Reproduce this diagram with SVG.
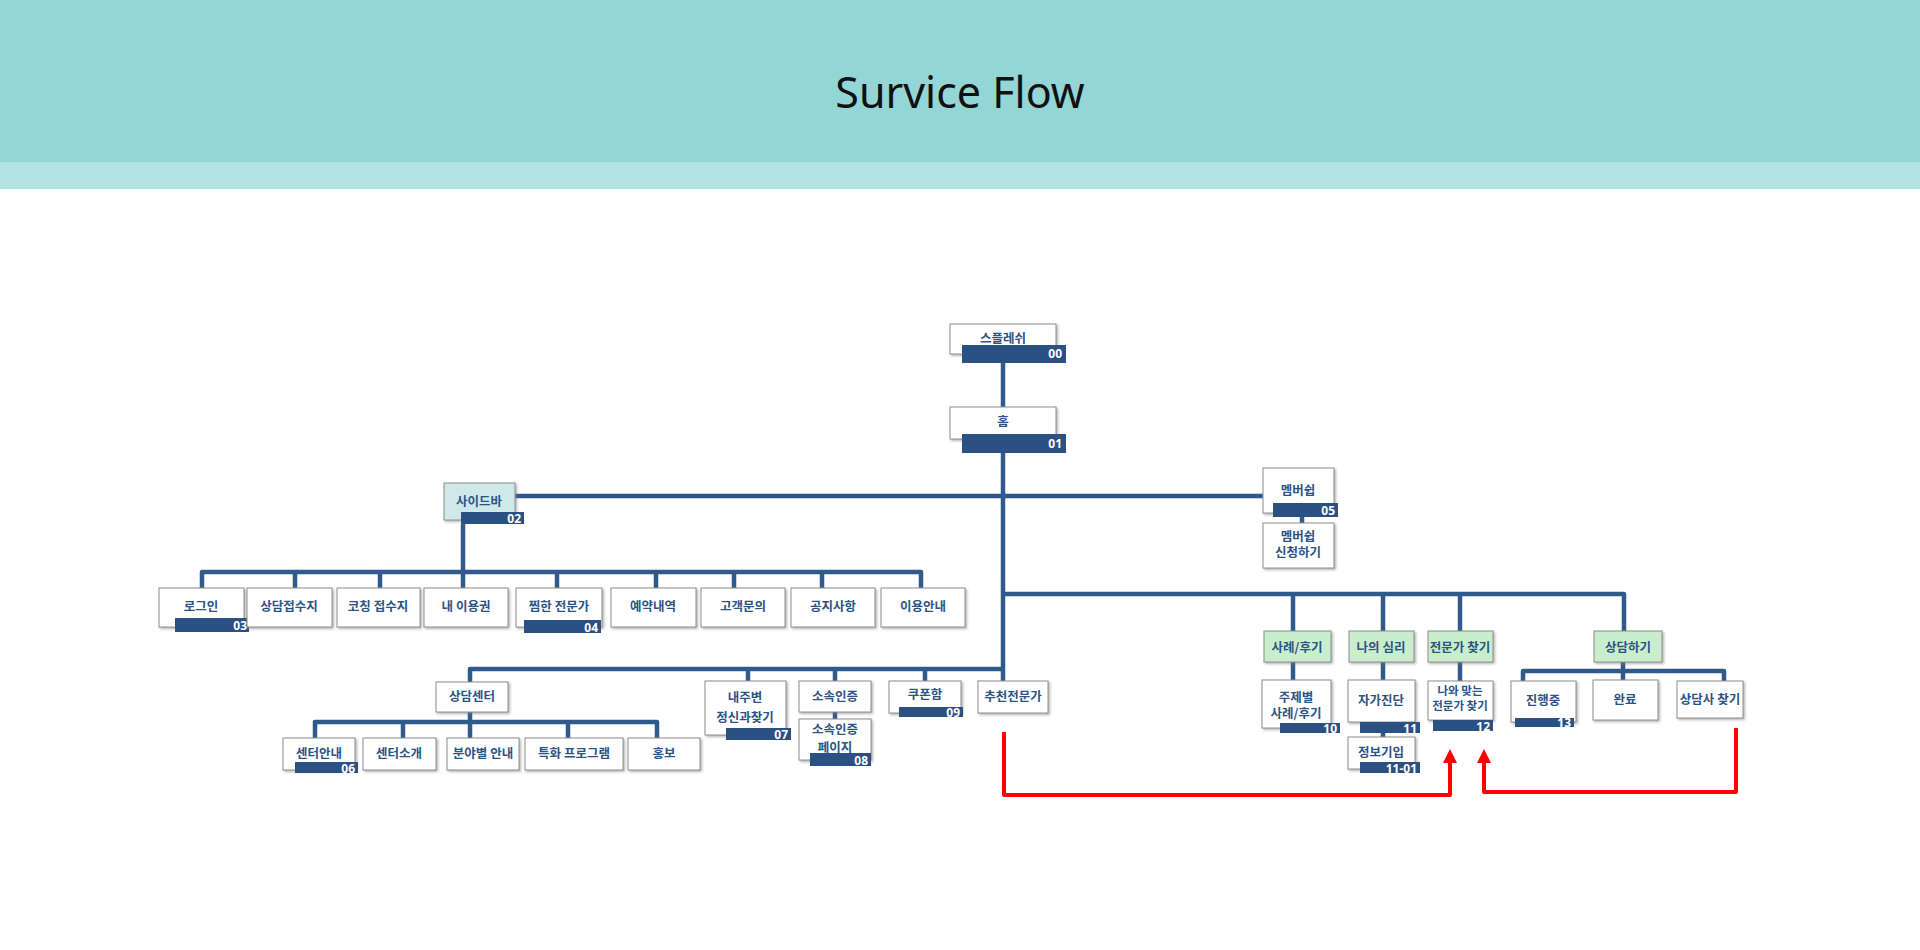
<svg xmlns="http://www.w3.org/2000/svg" width="1920" height="950" viewBox="0 0 1920 950">
<defs>
<style>
.box{fill:#fff;stroke:#8e8e8e;stroke-width:1;filter:url(#sh)}
.green{fill:#c9eecb}
.side{fill:#cfe8ea}
.bar{fill:#2b5184}
.t{font-family:"Noto Sans CJK KR","Noto Sans",sans-serif;font-weight:700;font-size:12.5px;fill:#2c5385;text-anchor:middle}
.s{font-size:11.5px}
.id{font-family:"Noto Sans","Liberation Sans",sans-serif;font-weight:700;font-size:12px;fill:#fff;text-anchor:end}
.ln{stroke:#2f5b8c;stroke-width:4.5;fill:none;stroke-linejoin:round;stroke-linecap:butt}
.red{stroke:#ff0000;stroke-width:4;fill:none;stroke-linejoin:round}
</style>
<filter id="sh" x="-10%" y="-10%" width="130%" height="140%">
<feDropShadow dx="1.5" dy="1.5" stdDeviation="1" flood-color="#777" flood-opacity="0.55"/>
</filter>
<marker id="ra" markerUnits="userSpaceOnUse" markerWidth="14" markerHeight="14" viewBox="0 0 14 14" refX="1" refY="7" orient="auto">
<path d="M0,0 L14,7 L0,14 z" fill="#ff0000"/>
</marker>
</defs>
<rect x="0" y="0" width="1920" height="950" fill="#fff"/>
<rect x="0" y="0" width="1920" height="162" fill="#94d5d6"/>
<rect x="0" y="162" width="1920" height="27" fill="#b3e4e3"/>
<text x="960" y="108" font-family="Noto Sans, Open Sans, sans-serif" font-size="43" fill="#111" text-anchor="middle">Survice Flow</text>

<g id="connectors">
<path class="ln" d="M1003,363 V681"/>
<path class="ln" d="M515,496 H1263"/>
<path class="ln" d="M463,524 V588"/>
<path class="ln" d="M202,588 V572 H921 V588"/>
<path class="ln" d="M295,572 V588 M380,572 V588 M557,572 V588 M656,572 V588 M734,572 V588 M822,572 V588"/>
<path class="ln" d="M1302,517 V523" stroke-width="3"/>
<path class="ln" d="M1003,594 H1624 V631"/>
<path class="ln" d="M1293,594 V631 M1383,594 V631 M1460,594 V631"/>
<path class="ln" d="M1293,662 V680 M1383,662 V680 M1460,662 V681"/>
<path class="ln" d="M1383,733 V737" stroke-width="3"/>
<path class="ln" d="M1523,681 V671 H1724 V681"/>
<path class="ln" d="M1623,662 V681"/>
<path class="ln" d="M470,682 V669 H1003"/>
<path class="ln" d="M748,669 V681 M835,669 V681 M925,669 V681"/>
<path class="ln" d="M315,738 V722 H657 V738"/>
<path class="ln" d="M403,722 V738 M470,712 V738 M568,722 V738"/>
<path class="ln" d="M835,712 V719" stroke-width="3"/>
<path class="red" d="M1004,732 V795 H1450 V762" marker-end="url(#ra)"/>
<path class="red" d="M1736,728 V792 H1484 V762" marker-end="url(#ra)"/>
</g>

<g id="n00"><rect class="box" x="950" y="324" width="106" height="30"/><text class="t" x="1003" y="343">스플레쉬</text><rect class="bar" x="962" y="345" width="104" height="18"/><text class="id" x="1062" y="358">00</text></g>
<g id="n01"><rect class="box" x="950" y="407" width="106" height="32"/><text class="t" x="1003" y="426">홈</text><rect class="bar" x="962" y="434" width="104" height="19"/><text class="id" x="1062" y="448">01</text></g>
<g id="n02"><rect class="box side" x="444" y="483" width="71" height="37"/><text class="t" x="479" y="506">사이드바</text><rect class="bar" x="461" y="512" width="63" height="12"/><text class="id" x="521" y="523">02</text></g>
<g id="n03"><rect class="box" x="159" y="588" width="85" height="39"/><text class="t" x="201" y="611">로그인</text><rect class="bar" x="175" y="618" width="74" height="14"/><text class="id" x="247" y="630">03</text></g>
<g id="n-counsel-recv"><rect class="box" x="247" y="588" width="85" height="39"/><text class="t" x="289" y="611">상담접수지</text></g>
<g id="n-coach-recv"><rect class="box" x="337" y="588" width="83" height="39"/><text class="t" x="378" y="611">코칭 접수지</text></g>
<g id="n-ticket"><rect class="box" x="424" y="588" width="84" height="39"/><text class="t" x="466" y="611">내 이용권</text></g>
<g id="n04"><rect class="box" x="516" y="588" width="86" height="39"/><text class="t" x="559" y="611">찜한 전문가</text><rect class="bar" x="524" y="620" width="77" height="13"/><text class="id" x="598" y="632">04</text></g>
<g id="n-reserve"><rect class="box" x="611" y="588" width="85" height="39"/><text class="t" x="653" y="611">예약내역</text></g>
<g id="n-inquiry"><rect class="box" x="701" y="588" width="84" height="39"/><text class="t" x="743" y="611">고객문의</text></g>
<g id="n-notice"><rect class="box" x="791" y="588" width="84" height="39"/><text class="t" x="833" y="611">공지사항</text></g>
<g id="n-guide"><rect class="box" x="881" y="588" width="84" height="39"/><text class="t" x="923" y="611">이용안내</text></g>
<g id="n05"><rect class="box" x="1263" y="468" width="71" height="45"/><text class="t" x="1298" y="495">멤버쉽</text><rect class="bar" x="1273" y="503" width="65" height="14"/><text class="id" x="1335" y="515">05</text></g>
<g id="n05-apply"><rect class="box" x="1263" y="523" width="71" height="45"/><text class="t" x="1298" y="541">멤버쉽</text><text class="t" x="1298" y="557">신청하기</text></g>
<g id="n-center"><rect class="box" x="436" y="682" width="72" height="30"/><text class="t" x="472" y="701">상담센터</text></g>
<g id="n06"><rect class="box" x="283" y="738" width="72" height="32"/><text class="t" x="319" y="758">센터안내</text><rect class="bar" x="295" y="762" width="63" height="11"/><text class="id" x="355" y="773">06</text></g>
<g id="n-center-intro"><rect class="box" x="363" y="738" width="73" height="32"/><text class="t" x="399" y="758">센터소개</text></g>
<g id="n-field"><rect class="box" x="447" y="738" width="72" height="32"/><text class="t" x="483" y="758">분야별 안내</text></g>
<g id="n-program"><rect class="box" x="525" y="738" width="98" height="32"/><text class="t" x="574" y="758">특화 프로그램</text></g>
<g id="n-promo"><rect class="box" x="628" y="738" width="72" height="32"/><text class="t" x="664" y="758">홍보</text></g>
<g id="n07"><rect class="box" x="705" y="681" width="81" height="54"/><text class="t" x="745" y="702">내주변</text><text class="t" x="745" y="722">정신과찾기</text><rect class="bar" x="726" y="728" width="65" height="12"/><text class="id" x="788" y="739">07</text></g>
<g id="n-affil"><rect class="box" x="799" y="681" width="72" height="31"/><text class="t" x="835" y="701">소속인증</text></g>
<g id="n08"><rect class="box" x="799" y="719" width="72" height="41"/><text class="t" x="835" y="734">소속인증</text><text class="t" x="835" y="752">페이지</text><rect class="bar" x="810" y="753" width="61" height="13"/><text class="id" x="868" y="765">08</text></g>
<g id="n09"><rect class="box" x="889" y="681" width="72" height="32"/><text class="t" x="925" y="699">쿠폰함</text><rect class="bar" x="899" y="707" width="64" height="10"/><text class="id" x="960" y="717">09</text></g>
<g id="n-recommend"><rect class="box" x="978" y="681" width="70" height="32"/><text class="t" x="1013" y="701">추천전문가</text></g>
<g id="n-cases"><rect class="box green" x="1264" y="631" width="67" height="31"/><text class="t" x="1297" y="652">사례/후기</text></g>
<g id="n-mind"><rect class="box green" x="1349" y="631" width="65" height="31"/><text class="t" x="1381" y="652">나의 심리</text></g>
<g id="n-find"><rect class="box green" x="1428" y="631" width="65" height="31"/><text class="t" x="1460" y="652">전문가 찾기</text></g>
<g id="n-counsel"><rect class="box green" x="1594" y="631" width="68" height="31"/><text class="t" x="1628" y="652">상담하기</text></g>
<g id="n10"><rect class="box" x="1262" y="680" width="69" height="48"/><text class="t" x="1296" y="702">주제별</text><text class="t" x="1296" y="718">사례/후기</text><rect class="bar" x="1280" y="723" width="60" height="10"/><text class="id" x="1337" y="733">10</text></g>
<g id="n11"><rect class="box" x="1348" y="680" width="67" height="42"/><text class="t" x="1381" y="705">자가진단</text><rect class="bar" x="1360" y="722" width="60" height="11"/><text class="id" x="1417" y="733">11</text></g>
<g id="n11-01"><rect class="box" x="1348" y="737" width="67" height="32"/><text class="t" x="1381" y="757">정보기입</text><rect class="bar" x="1360" y="762" width="60" height="11"/><text class="id" x="1417" y="773">11-01</text></g>
<g id="n12"><rect class="box" x="1428" y="681" width="65" height="39"/><text class="t s" x="1460" y="695">나와 맞는</text><text class="t s" x="1460" y="710">전문가 찾기</text><rect class="bar" x="1433" y="720" width="60" height="11"/><text class="id" x="1490" y="731">12</text></g>
<g id="n13"><rect class="box" x="1511" y="681" width="65" height="41"/><text class="t" x="1543" y="705">진행중</text><rect class="bar" x="1515" y="718" width="59" height="9"/><text class="id" x="1571" y="727">13</text></g>
<g id="n-done"><rect class="box" x="1593" y="680" width="65" height="40"/><text class="t" x="1625" y="704">완료</text></g>
<g id="n-find-counselor"><rect class="box" x="1677" y="681" width="66" height="37"/><text class="t" x="1710" y="704">상담사 찾기</text></g>
</svg>
